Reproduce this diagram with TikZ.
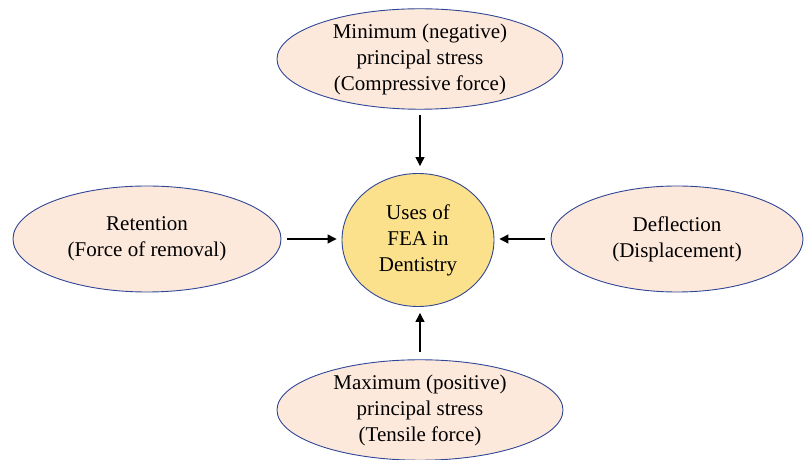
\documentclass[tikz,border=0pt]{standalone}
\usepackage{fontspec}
\setmainfont{Liberation Serif}
\usetikzlibrary{arrows.meta,shapes.geometric}
\definecolor{peach}{RGB}{253,233,220}
\definecolor{sun}{RGB}{252,225,140}
\definecolor{rim}{RGB}{47,70,150}
\tikzset{
  oval/.style={ellipse, draw=rim, line width=0.9pt, fill=peach, inner sep=0pt, align=center,
    font=\fontsize{21}{26}\selectfont},
  arr/.style={-{Triangle[length=9pt,width=9pt]}, line width=1.2pt, black}
}
\begin{document}
\begin{tikzpicture}[x=1pt,y=1pt]
\useasboundingbox (0,0) rectangle (805,460);
\node[oval, minimum width=286pt, minimum height=100pt] (top) at (420,401) {Minimum (negative)\\principal stress\\(Compressive force)};
\node[oval, minimum width=286pt, minimum height=100pt] (bot) at (420,50) {Maximum (positive)\\principal stress\\(Tensile force)};
\node[oval, minimum width=268pt, minimum height=106pt] (left) at (147,221) {Retention\\(Force of removal)};
\node[oval, minimum width=252pt, minimum height=106pt] (right) at (677,221) {Deflection\\(Displacement)};
\node[oval, fill=sun, minimum width=152pt, minimum height=133pt] (mid) at (418,220) {Uses of\\FEA in\\Dentistry};
\coordinate (ta) at (420,345);
\coordinate (ba) at (420,108);
\coordinate (la) at (287,221);
\coordinate (ra) at (545,221);
\draw[arr] (ta) -- ([yshift=7pt]mid.north -| ta);
\draw[arr] (ba) -- ([yshift=-6pt]mid.south -| ba);
\draw[arr] (la) -- ([xshift=-5pt]mid.west |- la);
\draw[arr] (ra) -- ([xshift=5pt]mid.east |- ra);
\end{tikzpicture}
\end{document}
